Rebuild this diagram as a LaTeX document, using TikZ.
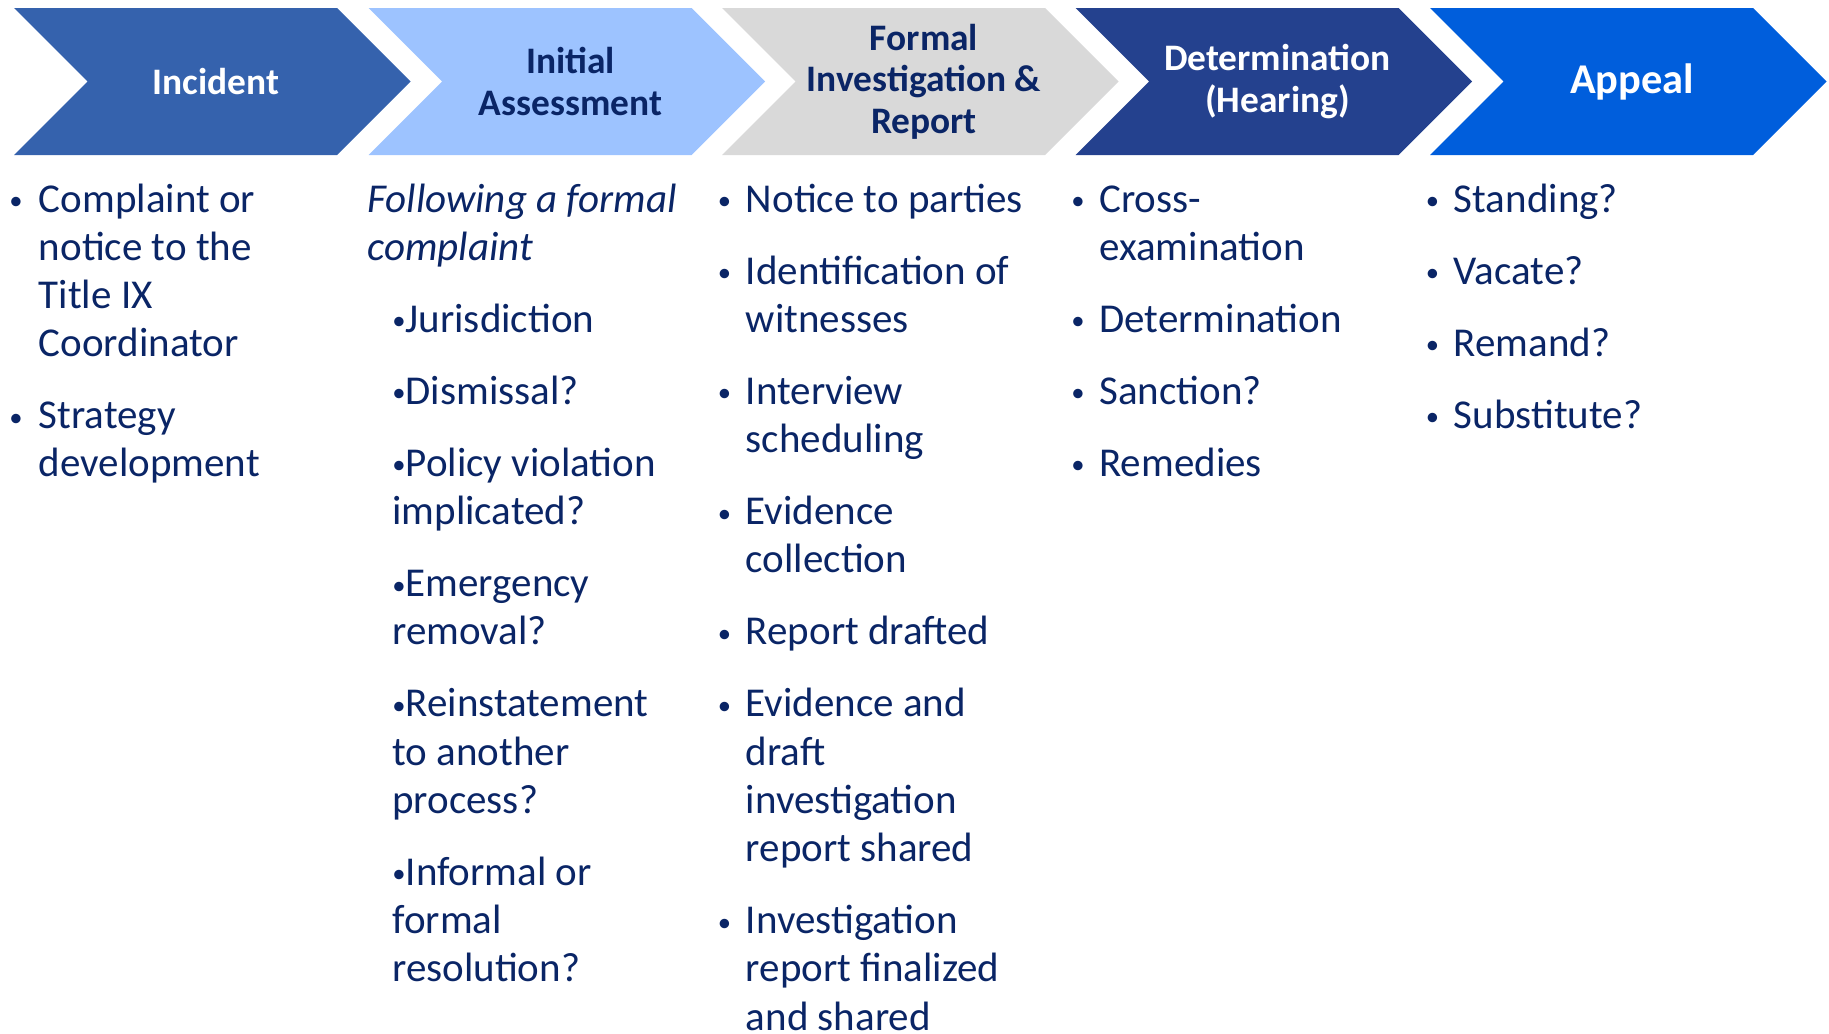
\documentclass[tikz,border=0pt]{standalone}
\usepackage{fontspec}
\setmainfont{Carlito}
\definecolor{cIncident}{HTML}{3562AD}
\definecolor{cInitial}{HTML}{9DC3FF}
\definecolor{cFormal}{HTML}{D9D9D9}
\definecolor{cDeterm}{HTML}{24418E}
\definecolor{cAppeal}{HTML}{005EDC}
\definecolor{navy}{HTML}{0A2566}
\newcommand\smb{\raisebox{0.06em}{\scalebox{0.65}{\textbullet}}}
\newcommand\mylines[1]{\vtop{\baselineskip=24.1pt\lineskiplimit=-100pt\def\\{\cr}\halign{##\hfil\cr#1\crcr}}}
\newcommand\chev[2]{%
  \fill[#2] (#1,8) -- ++(323,0) -- ++(73.5,73.5) -- ++(-73.5,73.5) -- ++(-323,0) -- ++(73.5,-73.5) -- cycle;}
\newcommand\bitem[5]{%
  \node[bul] (#1b) at (#2,#4) {\smb};
  \node[body] (#1) at (#3,#4) {\mylines{#5}};}
\begin{document}
\begin{tikzpicture}[x=0.5pt,y=-0.5pt,
  hdr/.style={align=center, inner sep=0, font=\fontsize{18.7pt}{20.7pt}\selectfont\bfseries},
  body/.style={anchor=base west, inner sep=0, text=navy, font=\fontsize{20.5pt}{24.1pt}\selectfont},
  bul/.style={anchor=base, inner sep=0, text=navy, font=\fontsize{20.5pt}{24.1pt}\selectfont}]
\useasboundingbox (0,0) rectangle (1829,1033);
% chevrons
\chev{14}{cIncident}
\chev{368.5}{cInitial}
\chev{722}{cFormal}
\chev{1075.5}{cDeterm}
\chev{1430}{cAppeal}
% headers
\node[hdr, text=white] (h1) at (216,81.5) {Incident};
\node[hdr, text=navy] (h2) at (570.5,81.5) {Initial\\Assessment};
\node[hdr, text=navy] (h3) at (924,81.5) {Formal\\Investigation \&\\Report};
\node[hdr, text=white] (h4) at (1277.5,81.5) {Determination\\(Hearing)};
\node[hdr, text=white, font=\fontsize{21.2pt}{24pt}\selectfont\bfseries] (h5) at (1632,81.5) {Appeal};
% column 1
\bitem{a1}{16}{38.5}{212}{Complaint or\\notice to the\\Title IX\\Coordinator}
\bitem{a2}{16}{38.5}{428.6}{Strategy\\development}
% column 2
\node[body] (b0) at (367,212) {\itshape\mylines{Following a formal\\complaint}};
\node[body] (b1) at (392,332.2) {\mylines{\smb Jurisdiction}};
\node[body] (b2) at (392,404.3) {\mylines{\smb Dismissal?}};
\node[body] (b3) at (392,476.4) {\mylines{\smb Policy violation\\implicated?}};
\node[body] (b4) at (392,596.6) {\mylines{\smb Emergency\\removal?}};
\node[body] (b5) at (392,716.8) {\mylines{\smb Reinstatement\\to another\\process?}};
\node[body] (b6) at (392,885.2) {\mylines{\smb Informal or\\formal\\resolution?}};
% column 3
\bitem{c1}{724.5}{745.5}{212}{Notice to parties}
\bitem{c2}{724.5}{745.5}{284.1}{Identification of\\witnesses}
\bitem{c3}{724.5}{745.5}{404.3}{Interview\\scheduling}
\bitem{c4}{724.5}{745.5}{524.5}{Evidence\\collection}
\bitem{c5}{724.5}{745.5}{644.7}{Report drafted}
\bitem{c6}{724.5}{745.5}{716.8}{Evidence and\\draft\\investigation\\report shared}
\bitem{c7}{724.5}{745.5}{933.6}{Investigation\\report finalized\\and shared}
% column 4
\bitem{d1}{1078}{1099}{212}{Cross-\\examination}
\bitem{d2}{1078}{1099}{332.2}{Determination}
\bitem{d3}{1078}{1099}{404.3}{Sanction?}
\bitem{d4}{1078}{1099}{476.4}{Remedies}
% column 5
\bitem{e1}{1432.5}{1453.5}{212}{Standing?}
\bitem{e2}{1432.5}{1453.5}{284.1}{Vacate?}
\bitem{e3}{1432.5}{1453.5}{356.2}{Remand?}
\bitem{e4}{1432.5}{1453.5}{428.3}{Substitute?}
\end{tikzpicture}
\end{document}
